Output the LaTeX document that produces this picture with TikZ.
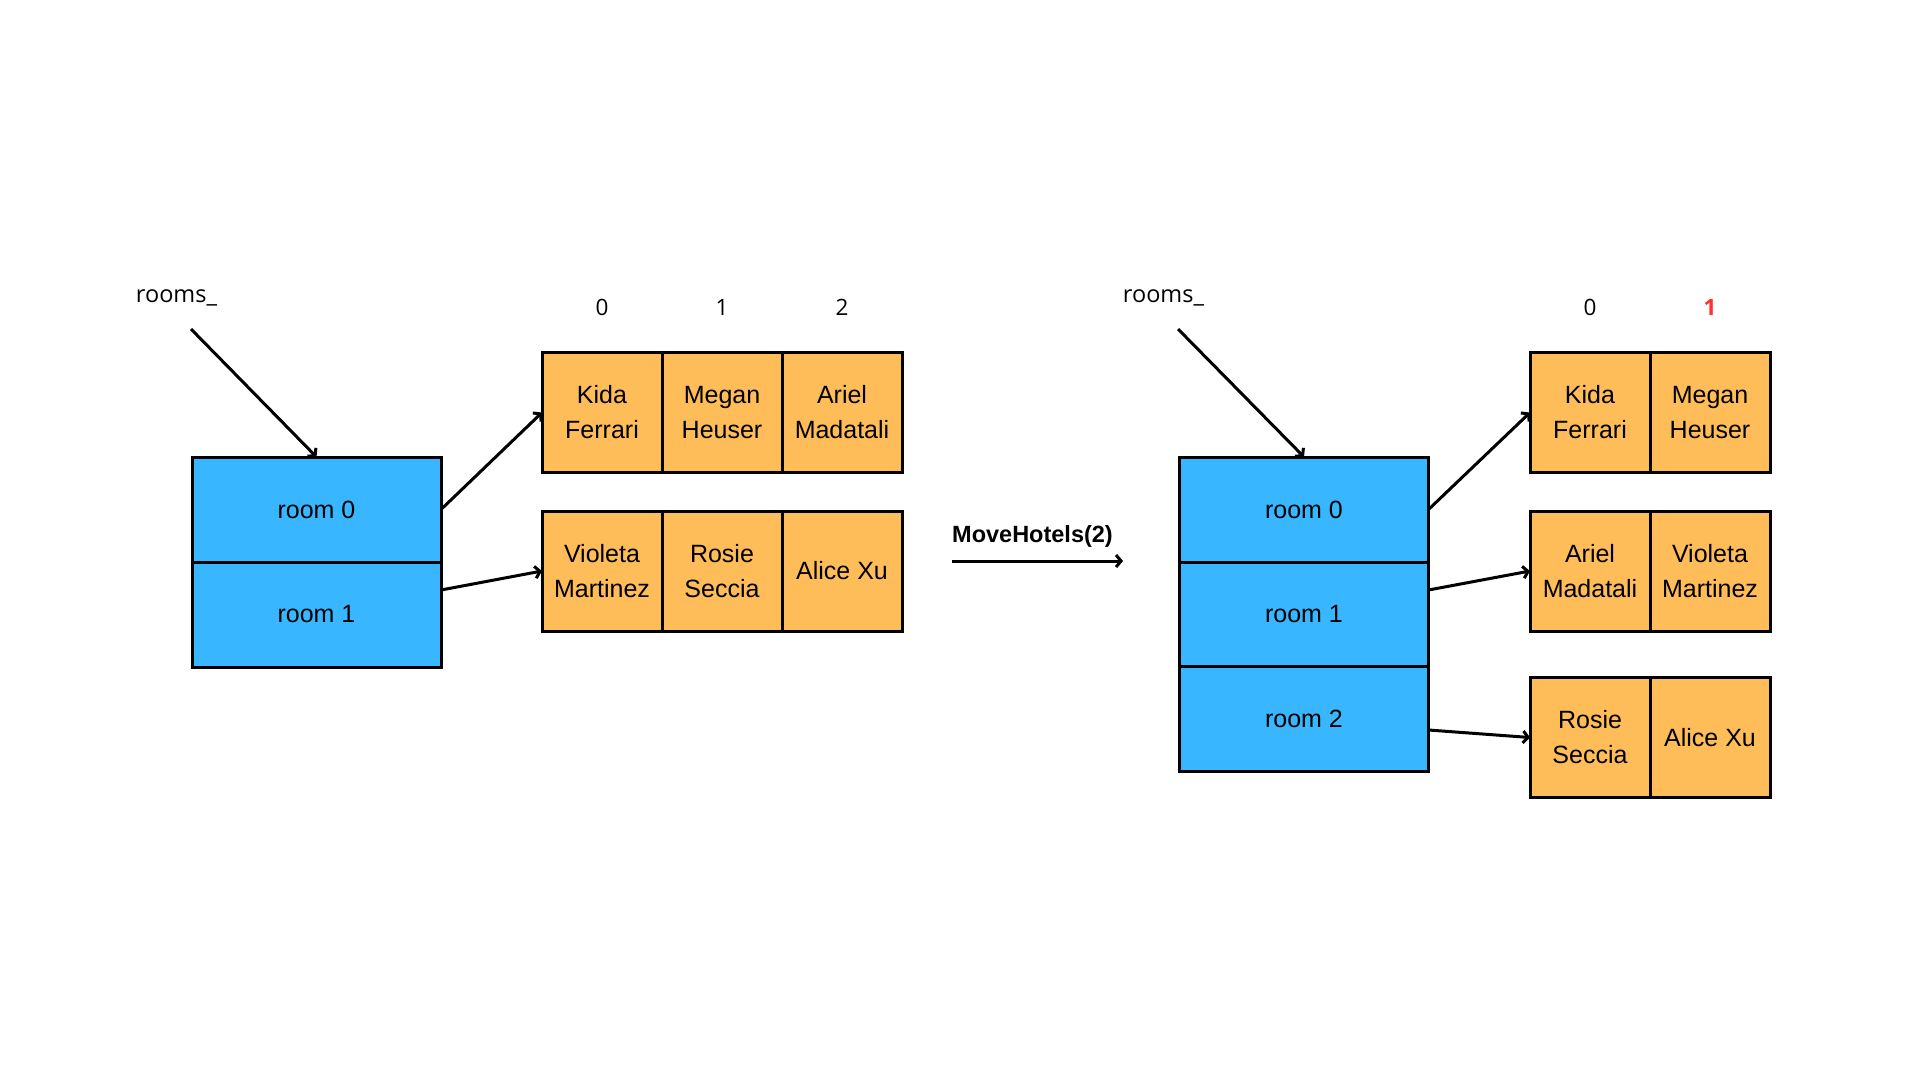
\documentclass[tikz,border=0pt]{standalone}
\usepackage{fontspec}
\setmainfont{Liberation Sans}
\newfontfamily\idxfont{Open Sans}
\usetikzlibrary{arrows.meta}
\definecolor{roomblue}{HTML}{38B6FF}
\definecolor{guestorange}{HTML}{FFBD59}
\definecolor{newred}{HTML}{FF3131}

\begin{document}
\begin{tikzpicture}[x=1pt,y=-1pt,
  roombox/.style={draw=black, line width=3pt, fill=roomblue,
    minimum width=249pt, minimum height=105pt, inner sep=0pt, outer sep=0pt,
    font=\fontsize{25}{35}\selectfont},
  cell/.style={draw=black, line width=3pt, fill=guestorange,
    minimum width=120pt, minimum height=120pt, inner sep=0pt, outer sep=0pt,
    align=center, font=\fontsize{25}{35}\selectfont},
  idx/.style={anchor=base, inner sep=0pt, font=\idxfont\fontsize{22.5}{26}\selectfont},
  ptrlabel/.style={anchor=base, inner sep=0pt, font=\idxfont\fontsize{23.5}{28}\selectfont},
  ptr/.style={line width=3pt, -{Straight Barb[length=5pt,width=12pt]}},
]
\fill[white] (0,0) rectangle (1920,1080);
\useasboundingbox (0,0) rectangle (1920,1080);

% ---------- before: two rooms ----------
\node[ptrlabel] (lname) at (176.5,302) {rooms\_};
\coordinate (lstart) at (191,329);

\node[roombox] (L0) at (316.5,509.5) {room 0};
\node[roombox] (L1) at (316.5,614.5) {room 1};

\node[idx] (li0) at (602,315) {0};
\node[idx] (li1) at (722,315) {1};
\node[idx] (li2) at (842,315) {2};

\node[cell] (a00) at (602,412.5) {Kida\\Ferrari};
\node[cell] (a01) at (722,412.5) {Megan\\Heuser};
\node[cell] (a02) at (842,412.5) {Ariel\\Madatali};
\node[cell] (a10) at (602,571) {Violeta\\Martinez};
\node[cell] (a11) at (722,571) {Rosie\\Seccia};
\node[cell] (a12) at (842,571) {Alice Xu};

\draw[ptr] (lstart) -- (L0.north);
\draw[ptr] (L0.east) -- (a00.west);
\draw[ptr] ([yshift=24.5pt]L1.east) -- (a10.west);

% ---------- the operation ----------
\coordinate (mstart) at (952,561);
\coordinate (mend) at (1123,561);
\node[anchor=base, inner sep=0pt, font=\bfseries\fontsize{23.5}{28}\selectfont]
  (mlabel) at (1032.5,542) {MoveHotels(2)};
\draw[ptr] (mstart) -- (mend);

% ---------- after: three rooms ----------
\node[ptrlabel] (rname) at (1163.5,302) {rooms\_};
\coordinate (rstart) at (1178,329);

\node[roombox] (R0) at (1304,509.5) {room 0};
\node[roombox] (R1) at (1304,614.5) {room 1};
\node[roombox] (R2) at (1304,719) {room 2};

\node[idx] (ri0) at (1590,315) {0};
\node[idx, text=newred, font=\idxfont\bfseries\fontsize{22.5}{26}\selectfont] (ri1) at (1710,315) {1};

\node[cell] (b00) at (1590,412.5) {Kida\\Ferrari};
\node[cell] (b01) at (1710,412.5) {Megan\\Heuser};
\node[cell] (b10) at (1590,571) {Ariel\\Madatali};
\node[cell] (b11) at (1710,571) {Violeta\\Martinez};
\node[cell] (b20) at (1590,737.5) {Rosie\\Seccia};
\node[cell] (b21) at (1710,737.5) {Alice Xu};

\draw[ptr] (rstart) -- (R0.north);
\draw[ptr] (R0.east) -- (b00.west);
\draw[ptr] ([yshift=24.5pt]R1.east) -- (b10.west);
\draw[ptr] ([yshift=-11pt]R2.east) -- (b20.west);
\end{tikzpicture}
\end{document}
